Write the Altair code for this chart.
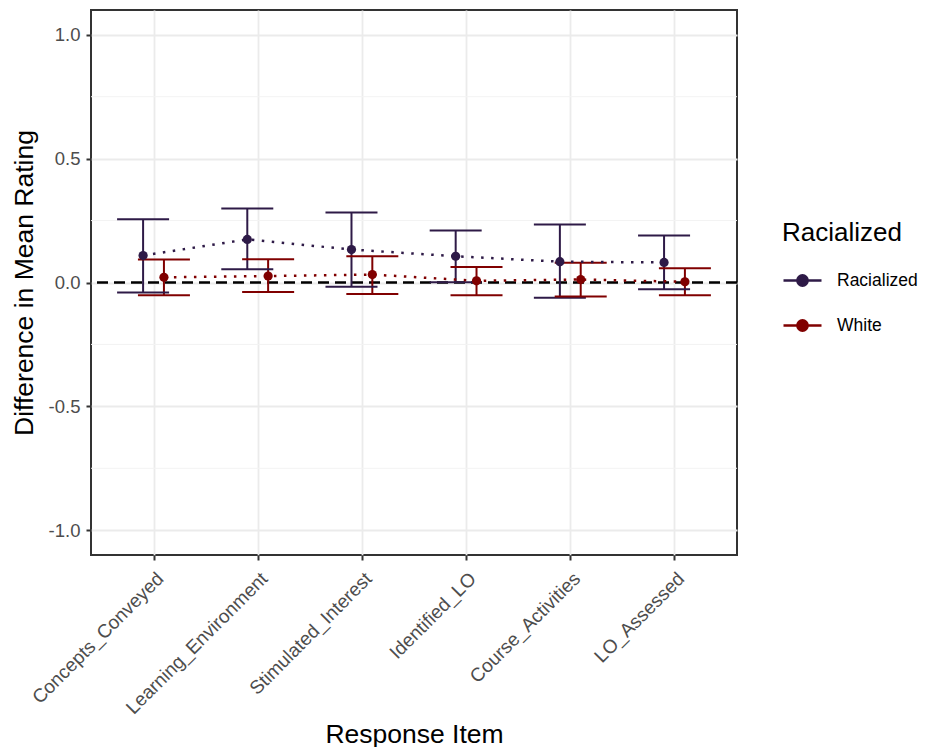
import altair as alt
import pandas as pd

items = ["Concepts_Conveyed", "Learning_Environment", "Stimulated_Interest",
         "Identified_LO", "Course_Activities", "LO_Assessed"]
groups = ["Racialized", "White"]

rac_mean = [0.109, 0.174, 0.133, 0.106, 0.084, 0.081]
rac_lo = [-0.040, 0.053, -0.017, 0.001, -0.062, -0.027]
rac_hi = [0.255, 0.299, 0.283, 0.210, 0.234, 0.190]

wht_mean = [0.021, 0.026, 0.032, 0.007, 0.012, 0.003]
wht_lo = [-0.051, -0.038, -0.046, -0.051, -0.057, -0.051]
wht_hi = [0.093, 0.094, 0.106, 0.063, 0.080, 0.058]

y_ticks = [-1.0, -0.5, 0.0, 0.5, 1.0]
y_minor = [-0.75, -0.25, 0.25, 0.75]
ref_line = [0.0]

colors = ["#2E1A47", "#800000"]

rows = []
for g, m, lo, hi in [("Racialized", rac_mean, rac_lo, rac_hi),
                     ("White", wht_mean, wht_lo, wht_hi)]:
    for i, item in enumerate(items):
        rows.append({"item": item, "idx": i, "group": g,
                     "mean": m[i], "lo": lo[i], "hi": hi[i]})
df = pd.DataFrame(rows)

label_expr = "[" + ",".join("'%s'" % s for s in items) + "][datum.value]"

W, H = 646, 545

xscale = alt.Scale(domain=[-0.6, len(items) - 0.4], nice=False, zero=False)
yscale = alt.Scale(domain=[-1.1, 1.1], nice=False, zero=False)
cscale = alt.Scale(domain=groups, range=colors)

x_axis = alt.Axis(values=list(range(len(items))), labelExpr=label_expr,
                  title="Response Item", labelAngle=-45, labelAlign="right",
                  labelBaseline="top", labelFontSize=19, labelColor="#4D4D4D",
                  labelPadding=9, labelOverlap=False, labelBound=False,
                  labelLimit=500,
                  titleFontSize=26.5, titleFontWeight="normal",
                  titleColor="black", titleY=187, titleBaseline="alphabetic",
                  grid=True, gridColor="#EBEBEB", gridWidth=1.8,
                  domain=False, tickColor="#333333", tickSize=5, tickWidth=2)
y_axis = alt.Axis(values=y_ticks,
                  labelExpr="replace(format(datum.value, '.1f'), '\u2212', '-')",
                  title="Difference in Mean Rating",
                  labelFontSize=18.5, labelColor="#4D4D4D", labelPadding=6,
                  labelOverlap=False,
                  titleFontSize=26.5, titleFontWeight="normal", titleColor="black",
                  titleX=-59, titleBaseline="alphabetic",
                  grid=True, gridColor="#EBEBEB", gridWidth=1.8,
                  domain=False, tickColor="#333333", tickSize=5, tickWidth=2)

sym = "M-1,0L1,0M0.27,0A0.27,0.27,0,1,1,-0.27,0A0.27,0.27,0,1,1,0.27,0Z"
leg = alt.Legend(title="Racialized", orient="none", legendX=691, legendY=210,
                 titleFontSize=26, titleFontWeight="normal", titleColor="black",
                 titlePadding=14, labelFontSize=17.5, labelColor="black",
                 labelOffset=14, labelLimit=300, symbolType=sym, symbolSize=1444,
                 symbolStrokeWidth=2.5, rowPadding=14, symbolOpacity=1)

base = alt.Chart(df).transform_calculate(
    xpos="datum.idx + (datum.group == 'Racialized' ? -0.1 : 0.1)"
)
X = alt.X("xpos:Q", scale=xscale, axis=x_axis)
C = alt.Color("group:N", scale=cscale, legend=leg)

minor = alt.Chart(pd.DataFrame({"y": y_minor})).mark_rule(
    color="#F3F3F3", strokeWidth=1).encode(y=alt.Y("y:Q", scale=yscale, axis=y_axis))

zero = alt.Chart(pd.DataFrame({"y": ref_line})).mark_rule(
    color="black", strokeWidth=2.5, strokeDash=[11, 6]).encode(y=alt.Y("y:Q", scale=yscale))

bars = base.mark_rule(strokeWidth=2).encode(
    x=X, y=alt.Y("lo:Q", scale=yscale), y2="hi:Q", color=C)
cap_lo = base.mark_tick(orient="horizontal", size=52, thickness=2, opacity=1).encode(
    x=X, y=alt.Y("lo:Q", scale=yscale), color=C)
cap_hi = base.mark_tick(orient="horizontal", size=52, thickness=2, opacity=1).encode(
    x=X, y=alt.Y("hi:Q", scale=yscale), color=C)
lines = base.mark_line(strokeWidth=2.5, strokeDash=[2.5, 7.5]).encode(
    x=X, y=alt.Y("mean:Q", scale=yscale), color=C, detail="group:N")
points = base.mark_point(filled=True, size=85, opacity=1, strokeWidth=0).encode(
    x=X, y=alt.Y("mean:Q", scale=yscale),
    color=C,
    stroke=alt.Stroke("group:N", scale=cscale, legend=leg))

chart = alt.layer(minor, zero, bars, cap_lo, cap_hi, lines, points).properties(
    width=W, height=H,
    autosize=alt.AutoSizeParams(type="none"),
    padding={"left": 83, "top": 2, "right": 185, "bottom": 192},
).configure(
    font="Liberation Sans",
    view=alt.ViewConfig(stroke="#333333", strokeWidth=2),
)

chart.save("out.html", embed_options={"renderer": "svg", "actions": False})
